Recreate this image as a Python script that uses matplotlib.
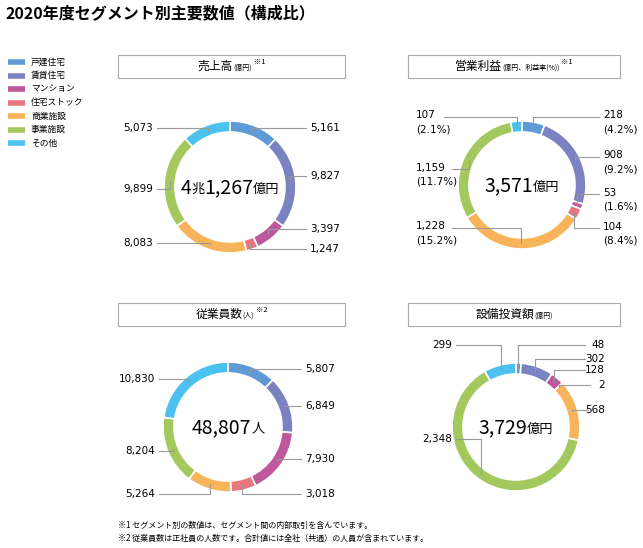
import matplotlib
matplotlib.use("Agg")
import matplotlib.pyplot as plt
from matplotlib.patches import Wedge, Rectangle
import numpy as np

plt.rcParams['font.family'] = ['Noto Sans CJK JP', 'DejaVu Sans']

segments = ["戸建住宅", "賃貸住宅", "マンション", "住宅ストック", "商業施設", "事業施設", "その他"]
colors = ["#5e9ad6", "#7b82c2", "#bf579c", "#ea7480", "#f8b45a", "#a3c95e", "#4cc0ee"]

sales = [5161, 9827, 3397, 1247, 8083, 9899, 5073]
profit = [218, 908, 53, 104, 1228, 1159, 107]
profit_rate = ["4.2%", "9.2%", "1.6%", "8.4%", "15.2%", "11.7%", "2.1%"]
employees = [5807, 6849, 7930, 3018, 5264, 8204, 10830]
capex = [48, 302, 128, 2, 568, 2348, 299]

fig = plt.figure(figsize=(6.43, 5.48), dpi=100)
ax = fig.add_axes([0, 0, 1, 1])
ax.set_xlim(0, 643); ax.set_ylim(548, 0); ax.axis('off')
fig.canvas.draw()
renderer = fig.canvas.get_renderer()

ax.text(6, 14, "2020年度セグメント別主要数値（構成比）", fontsize=11.5, weight='bold', va='center')
for i, (s, c) in enumerate(zip(segments, colors)):
    y = 62 + i * 13.5
    ax.plot([8, 25], [y, y], color=c, lw=4, solid_capstyle='butt')
    ax.text(31, y, s, fontsize=6.3, va='center')

def pieces(xc, y, parts):
    # parts: list of (text, fontsize, dy); laid out horizontally, centred on xc
    arts = [ax.text(0, y + dy, t, fontsize=fs, ha='left', va='center') for t, fs, dy in parts]
    widths = []
    for a in arts:
        bb = a.get_window_extent(renderer)
        widths.append(bb.width)
    x = xc - sum(widths) / 2
    for a, w in zip(arts, widths):
        a.set_x(x)
        x += w
    return arts

def box(x0, x1, y0, y1, main, sub, note):
    ax.add_patch(Rectangle((x0, y0), x1 - x0, y1 - y0, fill=False, ec="#aaaaaa", lw=0.8))
    yc = (y0 + y1) / 2
    parts = [(main, 8.5, 0), (sub, 5, 1.5)]
    if note:
        parts.append((" " + note, 5.5, -4))
    pieces((x0 + x1) / 2, yc, parts)

box(118, 345, 55, 78, "売上高", "(億円)", "※1")
box(408, 620, 55, 78, "営業利益", "(億円、利益率(%))", "※1")
box(118, 345, 303, 326, "従業員数", "(人)", "※2")
box(408, 620, 303, 326, "設備投資額", "(億円)", None)

def donut(cx, cy, r, w, vals, labels, two_line=None):
    tot = sum(vals)
    ang = 90.0
    for i, (v, c) in enumerate(zip(vals, colors)):
        span = 360 * v / tot
        ax.add_patch(Wedge((cx, cy), r, -ang, -(ang - span), width=w, fc=c, ec='white', lw=1.2))
        a = np.radians(ang - span / 2)
        px, py = cx + (r - w / 2) * np.cos(a), cy - (r - w / 2) * np.sin(a)
        lx, ly, ha, txt, lend = labels[i]
        ax.plot([lend, px, px], [ly, ly, py], color="#999", lw=0.8)
        if '\n' in txt:
            ax.text(lx, ly - 6.5, txt, fontsize=7.5, ha=ha, va='top', family='DejaVu Sans', linespacing=1.45)
        else:
            ax.text(lx, ly, txt, fontsize=7.5, ha=ha, va='center', family='DejaVu Sans')
        ang -= span

fmt = lambda v: f"{v:,}"

# sales
sl = [(310, 128, 'left'), (310, 176, 'left'), (310, 229, 'left'), (310, 249, 'left'),
      (153, 243, 'right'), (153, 189, 'right'), (153, 128, 'right')]
donut(230, 187, 66, 11, sales,
      [(x, y, h, fmt(v), x - 4 if h == 'left' else x + 4) for (x, y, h), v in zip(sl, sales)])
pieces(230, 188, [("4", 14, 0), ("兆", 9.5, 1), ("1,267", 14, 0), ("億円", 9.5, 1)])

# profit
pl = [(603, 117, 'r'), (603, 157, 'r'), (603, 194, 'r'), (603, 228, 'r'),
      (416, 228, 'l'), (416, 169, 'l'), (416, 117, 'l')]
plabs = []
for (x, y, s), v, p in zip(pl, profit, profit_rate):
    end = x - 4 if s == 'r' else x + (28 if v < 1000 else 36)
    plabs.append((x, y, 'left', f"{fmt(v)}\n({p})", end))
donut(522, 185, 64, 11, profit, plabs)
pieces(522, 186, [("3,571", 14, 0), ("億円", 9.5, 1)])

# employees
el = [(305, 369, 'left'), (305, 406, 'left'), (305, 459, 'left'), (305, 494, 'left'),
      (155, 494, 'right'), (155, 451, 'right'), (155, 379, 'right')]
donut(228, 427, 65, 11, employees,
      [(x, y, h, fmt(v), x - 4 if h == 'left' else x + 4) for (x, y, h), v in zip(el, employees)])
pieces(228, 428, [("48,807", 14, 0), ("人", 9.5, 1)])

# capex
cl = [(605, 345, 'right'), (605, 359, 'right'), (605, 370, 'right'), (605, 385, 'right'),
      (605, 410, 'right'), (452, 439, 'right'), (452, 345, 'right')]
ends = [585, 585, 585, 590, 588, 456, 456]
donut(516, 427, 64, 11, capex,
      [(x, y, h, fmt(v), e) for (x, y, h), v, e in zip(cl, capex, ends)])
pieces(516, 428, [("3,729", 14, 0), ("億円", 9.5, 1)])

ax.text(118, 525, "※1 セグメント別の数値は、セグメント間の内部取引を含んでいます。", fontsize=5.8, va='center')
ax.text(118, 538, "※2 従業員数は正社員の人数です。合計値には全社（共通）の人員が含まれています。", fontsize=5.8, va='center')

fig.savefig("out.png", dpi=100)
